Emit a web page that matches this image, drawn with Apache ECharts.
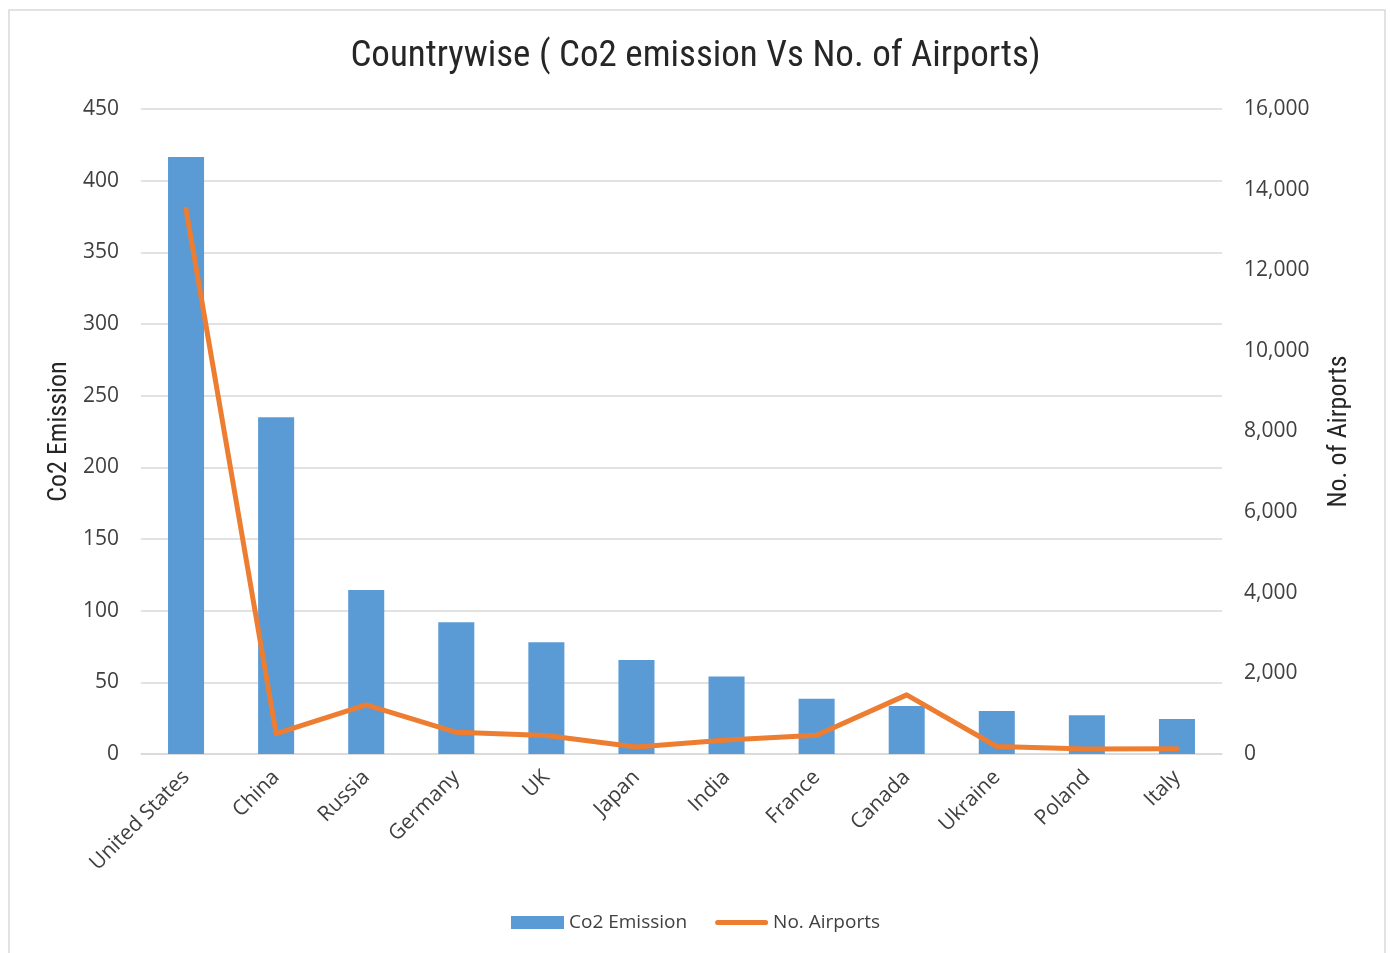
<!DOCTYPE html>
<html>
<head>
<meta charset="utf-8">
<script src="https://cdn.jsdelivr.net/npm/echarts@6/dist/echarts.min.js"></script>
<style>
  html, body { margin: 0; padding: 0; background: #ffffff; }
  #chart { width: 1391px; height: 953px; }
</style>
</head>
<body>
<div id="chart"></div>
<script>
// Countries, CO2 emission and airport counts
const countries = ['United States', 'China', 'Russia', 'Germany', 'UK', 'Japan', 'India', 'France', 'Canada', 'Ukraine', 'Poland', 'Italy'];
const co2Emission = [416.5, 235, 114.5, 92, 78, 65.5, 54, 38.5, 33.5, 30, 27, 24.5];
const airports = [13513, 507, 1218, 539, 460, 175, 346, 464, 1467, 187, 126, 129];

const labelFont = "'Open Sans', 'Noto Sans', sans-serif";
const narrowFont = "'Liberation Sans Narrow', 'Roboto Condensed', 'Roboto', sans-serif";
const textColor = '#404040';

const chart = echarts.init(document.getElementById('chart'), null, { renderer: 'canvas' });

chart.setOption({
  animation: false,
  backgroundColor: '#ffffff',
  graphic: [{
    type: 'rect',
    shape: { x: 9, y: 10, width: 1376, height: 960 },
    style: { fill: 'none', stroke: '#d9d9d9', lineWidth: 1.5 },
    silent: true
  }],
  title: {
    text: 'Countrywise ( Co2 emission Vs No. of Airports)',
    left: 'center',
    top: 33,
    textStyle: { fontFamily: narrowFont, fontSize: 37, fontWeight: 'normal', color: '#262626' }
  },
  legend: {
    bottom: 16,
    left: 'center',
    itemGap: 28,
    itemWidth: 53,
    itemHeight: 13,
    textStyle: { fontFamily: labelFont, fontSize: 19, color: textColor },
    data: [
      { name: 'Co2 Emission', icon: 'rect' },
      {
        name: 'No. Airports',
        icon: 'path://M2.5,0 L50.5,0 A2.5,2.5 0 0 1 50.5,5 L2.5,5 A2.5,2.5 0 0 1 2.5,0 Z',
        itemStyle: { color: '#ed7d31' }
      }
    ]
  },
  grid: { left: 141, right: 169, top: 109, bottom: 199, containLabel: false },
  xAxis: {
    type: 'category',
    data: countries,
    axisLine: { lineStyle: { color: '#d9d9d9', width: 1.5 } },
    axisTick: { show: false },
    axisLabel: {
      rotate: 45,
      interval: 0,
      margin: 20,
      fontFamily: labelFont,
      fontSize: 21,
      color: textColor
    }
  },
  yAxis: [{
    type: 'value',
    min: 0, max: 450, interval: 50,
    name: 'Co2 Emission',
    nameLocation: 'middle',
    nameGap: 68,
    nameTextStyle: { fontFamily: narrowFont, fontSize: 26, color: '#262626' },
    axisLine: { show: false },
    axisTick: { show: false },
    axisLabel: { fontFamily: labelFont, fontSize: 21, color: textColor, margin: 22 },
    splitLine: { lineStyle: { color: '#d9d9d9', width: 1.5 } }
  }, {
    type: 'value',
    min: 0, max: 16000, interval: 2000,
    name: 'No. of Airports',
    nameLocation: 'middle',
    nameGap: 104,
    nameRotate: 90,
    nameTextStyle: { fontFamily: narrowFont, fontSize: 26, color: '#262626' },
    axisLine: { show: false },
    axisTick: { show: false },
    splitLine: { show: false },
    axisLabel: {
      fontFamily: labelFont, fontSize: 21, color: textColor, margin: 22,
      formatter: v => v.toLocaleString('en-US')
    }
  }],
  series: [{
    name: 'Co2 Emission',
    type: 'bar',
    data: co2Emission,
    barWidth: '40%',
    itemStyle: { color: '#5b9bd5' },
    yAxisIndex: 0
  }, {
    name: 'No. Airports',
    type: 'line',
    data: airports,
    yAxisIndex: 1,
    symbol: 'none',
    lineStyle: { color: '#ed7d31', width: 5, cap: 'round', join: 'round' },
    itemStyle: { color: '#ed7d31' }
  }]
});
</script>
</body>
</html>
